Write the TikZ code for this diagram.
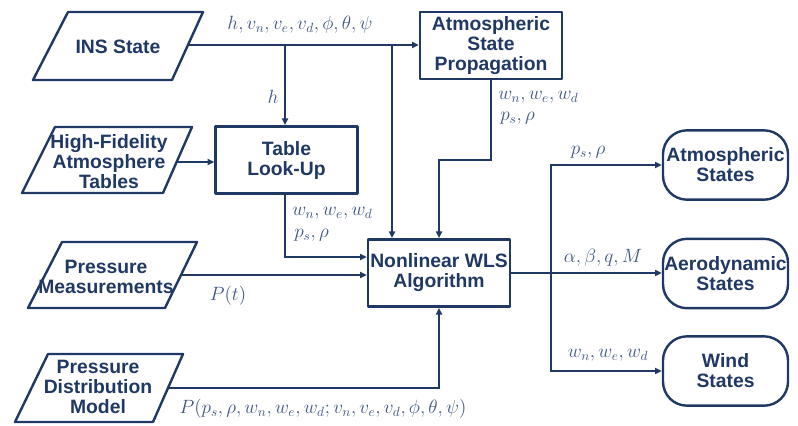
\documentclass[tikz,border=0pt]{standalone}
\usepackage{fontspec}
\setmainfont{Liberation Sans}
\usetikzlibrary{arrows.meta}
\definecolor{navy}{HTML}{1F3864}
\definecolor{lab}{HTML}{3E5680}
\tikzset{
  shp/.style={draw=navy, line width=1.8pt, line join=round},
  txt/.style={text=navy, font=\fontsize{14.5}{15}\selectfont\bfseries, align=center, inner sep=0pt},
  rbox/.style={shp, txt, minimum width=106.5pt, minimum height=50.5pt},
  term/.style={shp, txt, rounded corners=18pt, minimum width=93.75pt, minimum height=52pt},
  lbl/.style={text=lab, font=\fontsize{14}{15}\selectfont, inner sep=0pt},
  conn/.style={draw=navy, line width=1.5pt},
  arr/.style={conn, -{Triangle[length=5pt,width=4.5pt]}}
}
\begin{document}
\begin{tikzpicture}[x=0.75pt,y=-0.75pt]
\useasboundingbox (0,0) rectangle (798,425);
% parallelograms
\draw[shp] (68,12) -- (203,12) -- (172,80) -- (33,80) -- cycle;
\node[txt] (ins) at (118,47) {INS State};
\draw[shp] (55,127) -- (192,127) -- (163,193) -- (22,193) -- cycle;
\node[txt] (hf) at (109,162) {High-Fidelity\\Atmosphere\\Tables};
\draw[shp] (62,242) -- (197,242) -- (165,308) -- (28,308) -- cycle;
\node[txt] (pm) at (106,277) {Pressure\\Measurements};
\draw[shp] (48,354) -- (183,354) -- (153,422) -- (15,422) -- cycle;
\node[txt] (pd) at (98,387) {Pressure\\Distribution\\Model};
% boxes
\node[rbox] (tab) at (286.5,160) {Table\\Look-Up};
\node[rbox] (asp) at (491,45.5) {Atmospheric\\State\\Propagation};
\node[rbox] (wls) at (439,273) {Nonlinear WLS\\Algorithm};
\node[term] (atm) at (725.5,165) {Atmospheric\\States};
\node[term] (aero) at (725.5,273.5) {Aerodynamic\\States};
\node[term] (wind) at (725.5,371) {Wind\\States};
% coordinates
\coordinate (insR) at (188,45);
\coordinate (b1) at (285,45);
\coordinate (b2) at (392,45);
\coordinate (hfR) at (177,162);
\coordinate (t1) at (285,257);
\coordinate (a2) at (439,160);
\coordinate (pmR) at (181,275);
\coordinate (pdR) at (168,388);
\coordinate (o1) at (551,273);
% connectors
\draw[arr] (insR) -- (insR -| asp.west);
\draw[arr] (b1) -- (b1 |- tab.north);
\draw[arr] (b2) -- (b2 |- wls.north);
\draw[arr] (hfR) -- (hfR -| tab.west);
\draw[arr] (tab.south -| t1) -- (t1) -- (t1 -| wls.west);
\draw[arr] (asp.south) -- (asp.south |- a2) -- (a2) -- (wls.north);
\draw[arr] (pmR) -- (pmR -| wls.west);
\draw[arr] (pdR) -- (pdR -| wls.south) -- (wls.south);
\draw[arr] (wls.east) -- (wls.east -| aero.west);
\draw[arr] (o1) |- (atm.west);
\draw[arr] (o1) |- (wind.west);
% labels
\node[lbl] (l1) at (300,25) {$h, v_n, v_e, v_d, \phi, \theta, \psi$};
\node[lbl] (l2) at (273,97) {$h$};
\node[lbl, anchor=west] (l3) at (292,213) {$w_n, w_e, w_d$};
\node[lbl, anchor=west] (l4) at (294,235) {$p_s, \rho$};
\node[lbl, anchor=west] (l5) at (498,97) {$w_n, w_e, w_d$};
\node[lbl, anchor=west] (l6) at (500,118) {$p_s, \rho$};
\node[lbl] (l7) at (588,152) {$p_s, \rho$};
\node[lbl] (l8) at (603,258) {$\alpha, \beta, q, M$};
\node[lbl] (l9) at (608,355) {$w_n, w_e, w_d$};
\node[lbl] (l10) at (228,296) {$P(t)$};
\node[lbl] (l11) at (323,409) {$P(p_s, \rho, w_n, w_e, w_d; v_n, v_e, v_d, \phi, \theta, \psi)$};
\end{tikzpicture}
\end{document}
